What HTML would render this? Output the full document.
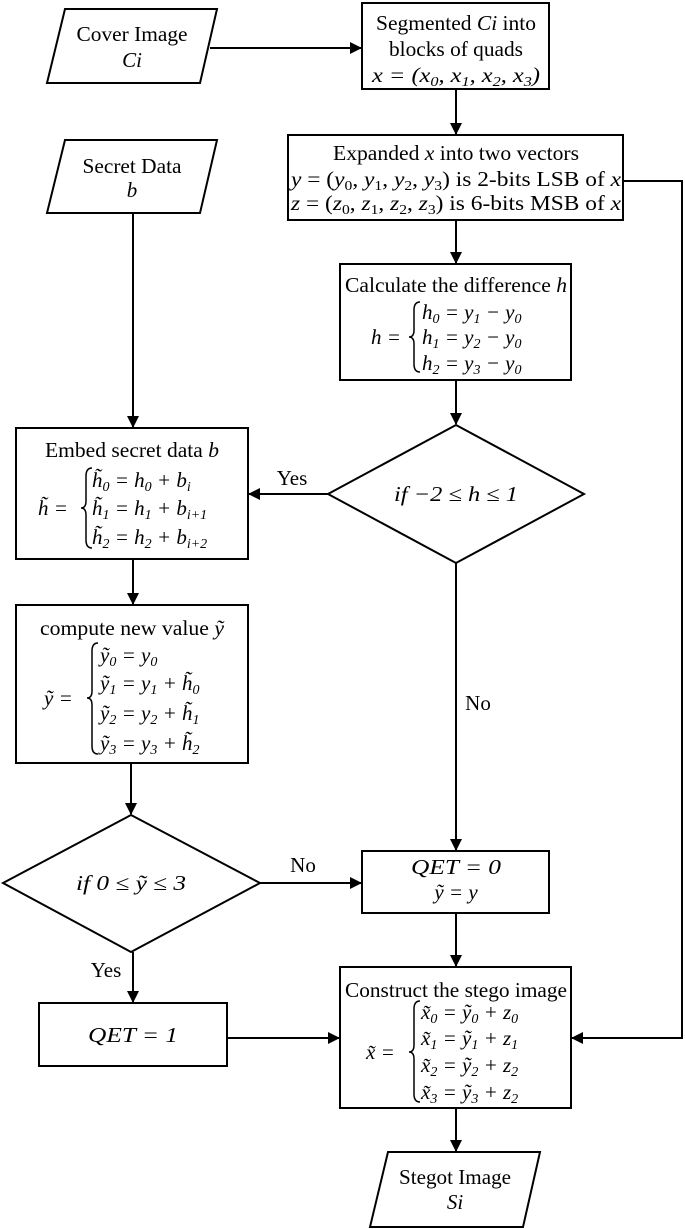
<!DOCTYPE html>
<html><head><meta charset="utf-8"><style>
html,body{margin:0;padding:0;background:#fff;}
svg{display:block;}
text{font-family:"Liberation Serif",serif;font-size:21px;fill:#000;}
.i{font-style:italic;}
.s{font-size:14px;}
</style></head><body>
<svg width="685" height="1229" viewBox="0 0 685 1229" xmlns="http://www.w3.org/2000/svg">
<defs><marker id="a" markerWidth="12" markerHeight="12" refX="11" refY="6" orient="auto" markerUnits="userSpaceOnUse"><path d="M0,0 L12,6 L0,12 z" fill="#000"/></marker></defs>
<g fill="none" stroke="#000" stroke-width="2">
<polygon points="65,9 217,9 200,83 47,83"/>
<rect x="362" y="3" width="187" height="86"/>
<rect x="288" y="135" width="335" height="85"/>
<polygon points="65,140 217,140 200,213 47,213"/>
<rect x="340" y="264" width="231" height="116"/>
<polygon points="456,425 584,494 456,563 328,494"/>
<rect x="16" y="428" width="232" height="131"/>
<rect x="16" y="605" width="232" height="158"/>
<polygon points="131,815 260,883 131,952 3,883"/>
<rect x="362" y="851" width="187" height="62"/>
<rect x="340" y="967" width="231" height="141"/>
<rect x="39" y="1003" width="188" height="63"/>
<polygon points="388,1152 540,1152 523,1227 370,1227"/>
<line x1="210" y1="48" x2="361" y2="48" marker-end="url(#a)"/>
<line x1="456" y1="89" x2="456" y2="134" marker-end="url(#a)"/>
<line x1="456" y1="220" x2="456" y2="263" marker-end="url(#a)"/>
<line x1="456" y1="380" x2="456" y2="424" marker-end="url(#a)"/>
<polyline points="623,181 682,181 682,1038 572,1038" marker-end="url(#a)"/>
<line x1="133" y1="213" x2="133" y2="427" marker-end="url(#a)"/>
<line x1="328" y1="494" x2="249" y2="494" marker-end="url(#a)"/>
<line x1="133" y1="559" x2="133" y2="604" marker-end="url(#a)"/>
<line x1="131" y1="763" x2="131" y2="814" marker-end="url(#a)"/>
<line x1="456" y1="563" x2="456" y2="850" marker-end="url(#a)"/>
<line x1="260" y1="883" x2="361" y2="883" marker-end="url(#a)"/>
<line x1="456" y1="913" x2="456" y2="966" marker-end="url(#a)"/>
<line x1="133" y1="952" x2="133" y2="1002" marker-end="url(#a)"/>
<line x1="227" y1="1038" x2="339" y2="1038" marker-end="url(#a)"/>
<line x1="456" y1="1108" x2="456" y2="1151" marker-end="url(#a)"/>
<path stroke-width="1.5" d="M420,302 Q414,302 414,310 L414,330 Q414,337 409,337 Q414,337 414,344 L414,364 Q414,372 420,372"/>
<path stroke-width="1.5" d="M92,468 Q86,468 86,476 L86,501 Q86,508 81,508 Q86,508 86,515 L86,540 Q86,548 92,548"/>
<path stroke-width="1.5" d="M98,643 Q92,643 92,651 L92,691 Q92,698 87,698 Q92,698 92,705 L92,746 Q92,754 98,754"/>
<path stroke-width="1.5" d="M420,1001 Q414,1001 414,1009 L414,1045 Q414,1052 409,1052 Q414,1052 414,1059 L414,1094 Q414,1102 420,1102"/>
</g>
<g text-anchor="middle">
<text x="132" y="41" textLength="111" lengthAdjust="spacingAndGlyphs">Cover Image</text>
<text x="132" y="67" class="i">Ci</text>
<text x="456" y="30" textLength="160" lengthAdjust="spacingAndGlyphs">Segmented <tspan class="i">Ci</tspan> into</text>
<text x="456" y="56" textLength="134" lengthAdjust="spacingAndGlyphs">blocks of quads</text>
<text x="456" y="82" class="i" textLength="168" lengthAdjust="spacingAndGlyphs">x = (x<tspan class="s" dy="4">0</tspan><tspan dy="-4">, x</tspan><tspan class="s" dy="4">1</tspan><tspan dy="-4">, x</tspan><tspan class="s" dy="4">2</tspan><tspan dy="-4">, x</tspan><tspan class="s" dy="4">3</tspan><tspan dy="-4">)</tspan></text>
<text x="456" y="160" textLength="246" lengthAdjust="spacingAndGlyphs">Expanded <tspan class="i">x</tspan> into two vectors</text>
<text x="456" y="186" textLength="330" lengthAdjust="spacingAndGlyphs"><tspan class="i">y</tspan> = (<tspan class="i">y</tspan><tspan class="s" dy="4">0</tspan><tspan dy="-4">, </tspan><tspan class="i">y</tspan><tspan class="s" dy="4">1</tspan><tspan dy="-4">, </tspan><tspan class="i">y</tspan><tspan class="s" dy="4">2</tspan><tspan dy="-4">, </tspan><tspan class="i">y</tspan><tspan class="s" dy="4">3</tspan><tspan dy="-4">) is 2-bits LSB of </tspan><tspan class="i">x</tspan></text>
<text x="456" y="210" textLength="330" lengthAdjust="spacingAndGlyphs"><tspan class="i">z</tspan> = (<tspan class="i">z</tspan><tspan class="s" dy="4">0</tspan><tspan dy="-4">, </tspan><tspan class="i">z</tspan><tspan class="s" dy="4">1</tspan><tspan dy="-4">, </tspan><tspan class="i">z</tspan><tspan class="s" dy="4">2</tspan><tspan dy="-4">, </tspan><tspan class="i">z</tspan><tspan class="s" dy="4">3</tspan><tspan dy="-4">) is 6-bits MSB of </tspan><tspan class="i">x</tspan></text>
<text x="132" y="173" textLength="99" lengthAdjust="spacingAndGlyphs">Secret Data</text>
<text x="132" y="197" class="i">b</text>
<text x="456" y="292" textLength="222" lengthAdjust="spacingAndGlyphs">Calculate the difference <tspan class="i">h</tspan></text>
<text x="132" y="457" textLength="174" lengthAdjust="spacingAndGlyphs">Embed secret data <tspan class="i">b</tspan></text>
<text x="132" y="635" textLength="184" lengthAdjust="spacingAndGlyphs">compute new value <tspan class="i">ỹ</tspan></text>
<text x="456" y="997" textLength="222" lengthAdjust="spacingAndGlyphs">Construct the stego image</text>
<text x="456" y="501" class="i" textLength="124" lengthAdjust="spacingAndGlyphs">if −2 ≤ h ≤ 1</text>
<text x="131" y="890" class="i" textLength="110" lengthAdjust="spacingAndGlyphs">if 0 ≤ ỹ ≤ 3</text>
<text x="456" y="874" class="i" textLength="90" lengthAdjust="spacingAndGlyphs">QET = 0</text>
<text x="456" y="899" class="i">ỹ = y</text>
<text x="133" y="1042" class="i" textLength="90" lengthAdjust="spacingAndGlyphs">QET = 1</text>
<text x="455" y="1184" textLength="112" lengthAdjust="spacingAndGlyphs">Stegot Image</text>
<text x="455" y="1209" class="i">Si</text>
<text x="292" y="485">Yes</text>
<text x="478" y="710">No</text>
<text x="303" y="872">No</text>
<text x="106" y="977">Yes</text>
</g>
<g>
<text x="371" y="344" class="i">h =</text>
<text x="422" y="319" class="i">h<tspan class="s" dy="4">0</tspan><tspan dy="-4"> = y</tspan><tspan class="s" dy="4">1</tspan><tspan dy="-4"> − y</tspan><tspan class="s" dy="4">0</tspan></text>
<text x="422" y="344" class="i">h<tspan class="s" dy="4">1</tspan><tspan dy="-4"> = y</tspan><tspan class="s" dy="4">2</tspan><tspan dy="-4"> − y</tspan><tspan class="s" dy="4">0</tspan></text>
<text x="422" y="370" class="i">h<tspan class="s" dy="4">2</tspan><tspan dy="-4"> = y</tspan><tspan class="s" dy="4">3</tspan><tspan dy="-4"> − y</tspan><tspan class="s" dy="4">0</tspan></text>
<text x="38" y="515" class="i">h̃ =</text>
<text x="92" y="487" class="i">h̃<tspan class="s" dy="4">0</tspan><tspan dy="-4"> = h</tspan><tspan class="s" dy="4">0</tspan><tspan dy="-4"> + b</tspan><tspan class="s" dy="4">i</tspan></text>
<text x="92" y="515" class="i">h̃<tspan class="s" dy="4">1</tspan><tspan dy="-4"> = h</tspan><tspan class="s" dy="4">1</tspan><tspan dy="-4"> + b</tspan><tspan class="s" dy="4">i+1</tspan></text>
<text x="92" y="544" class="i">h̃<tspan class="s" dy="4">2</tspan><tspan dy="-4"> = h</tspan><tspan class="s" dy="4">2</tspan><tspan dy="-4"> + b</tspan><tspan class="s" dy="4">i+2</tspan></text>
<text x="44" y="705" class="i">ỹ =</text>
<text x="100" y="662" class="i">ỹ<tspan class="s" dy="4">0</tspan><tspan dy="-4"> = y</tspan><tspan class="s" dy="4">0</tspan></text>
<text x="100" y="690" class="i">ỹ<tspan class="s" dy="4">1</tspan><tspan dy="-4"> = y</tspan><tspan class="s" dy="4">1</tspan><tspan dy="-4"> + h̃</tspan><tspan class="s" dy="4">0</tspan></text>
<text x="100" y="720" class="i">ỹ<tspan class="s" dy="4">2</tspan><tspan dy="-4"> = y</tspan><tspan class="s" dy="4">2</tspan><tspan dy="-4"> + h̃</tspan><tspan class="s" dy="4">1</tspan></text>
<text x="100" y="750" class="i">ỹ<tspan class="s" dy="4">3</tspan><tspan dy="-4"> = y</tspan><tspan class="s" dy="4">3</tspan><tspan dy="-4"> + h̃</tspan><tspan class="s" dy="4">2</tspan></text>
<text x="366" y="1059" class="i">x̃ =</text>
<text x="421" y="1019" class="i">x̃<tspan class="s" dy="4">0</tspan><tspan dy="-4"> = ỹ</tspan><tspan class="s" dy="4">0</tspan><tspan dy="-4"> +  z</tspan><tspan class="s" dy="4">0</tspan></text>
<text x="421" y="1045" class="i">x̃<tspan class="s" dy="4">1</tspan><tspan dy="-4"> = ỹ</tspan><tspan class="s" dy="4">1</tspan><tspan dy="-4"> + z</tspan><tspan class="s" dy="4">1</tspan></text>
<text x="421" y="1072" class="i">x̃<tspan class="s" dy="4">2</tspan><tspan dy="-4"> = ỹ</tspan><tspan class="s" dy="4">2</tspan><tspan dy="-4"> + z</tspan><tspan class="s" dy="4">2</tspan></text>
<text x="421" y="1099" class="i">x̃<tspan class="s" dy="4">3</tspan><tspan dy="-4"> = ỹ</tspan><tspan class="s" dy="4">3</tspan><tspan dy="-4"> + z</tspan><tspan class="s" dy="4">2</tspan></text>
</g>
</svg>
</body></html>
